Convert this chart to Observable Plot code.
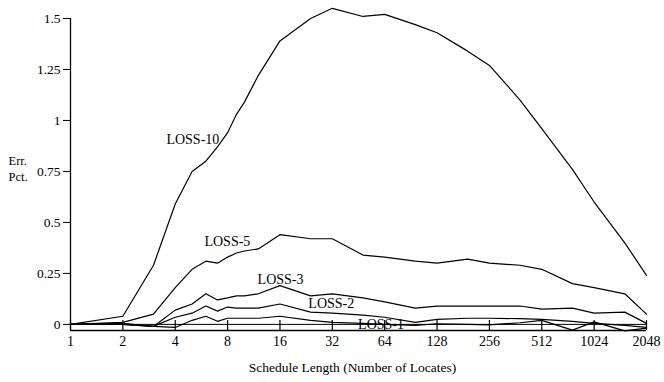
<!DOCTYPE html>
<html>
<head>
<meta charset="utf-8">
<script src="https://cdn.jsdelivr.net/npm/d3@7"></script>
<script src="https://cdn.jsdelivr.net/npm/@observablehq/plot@0.6"></script>
<style>
  html, body { margin: 0; padding: 0; background: white; }
</style>
</head>
<body>
<div id="chart"></div>
<script>
const xs = [1, 2, 3, 4, 5, 6, 7, 8, 9, 10, 12, 16, 24, 32, 48, 64, 96, 128, 192, 256, 384, 512, 768, 1024, 1536, 2048];

const loss10 = [0, 0.04, 0.29, 0.59, 0.75, 0.80, 0.87, 0.94, 1.03, 1.09, 1.22, 1.39, 1.50, 1.55, 1.51, 1.52, 1.47, 1.43, 1.34, 1.27, 1.10, 0.96, 0.76, 0.60, 0.40, 0.24];
const loss5  = [0, 0.01, 0.05, 0.18, 0.27, 0.31, 0.30, 0.33, 0.35, 0.36, 0.37, 0.44, 0.42, 0.42, 0.34, 0.33, 0.31, 0.30, 0.32, 0.30, 0.29, 0.27, 0.20, 0.18, 0.15, 0.05];
const loss3  = [0, 0.0, -0.01, 0.07, 0.10, 0.15, 0.12, 0.13, 0.14, 0.14, 0.15, 0.19, 0.14, 0.15, 0.13, 0.11, 0.08, 0.09, 0.09, 0.09, 0.09, 0.075, 0.08, 0.055, 0.06, 0.005];
const loss2  = [0, 0.005, -0.01, 0.035, 0.055, 0.09, 0.065, 0.085, 0.08, 0.08, 0.08, 0.10, 0.06, 0.055, 0.045, 0.035, 0.01, 0.025, 0.03, 0.03, 0.028, 0.025, 0.015, 0.005, -0.005, -0.015];
const loss1  = [0, 0.0, -0.01, -0.015, 0.02, 0.04, 0.015, 0.03, 0.03, 0.03, 0.03, 0.04, 0.02, 0.01, 0.005, 0.0, -0.005, 0.003, 0.0, -0.002, 0.008, 0.02, -0.028, 0.012, -0.032, -0.018];

const seriesNames = ["LOSS-10", "LOSS-5", "LOSS-3", "LOSS-2", "LOSS-1"];
const seriesValues = [loss10, loss5, loss3, loss2, loss1];
const labelX = [3.56, 5.89, 11.9, 23.3, 45];
const labelY = [0.907, 0.407, 0.22, 0.103, 0.0];

const yTitleLines = ["Err.", "Pct."];
const yTitleY = [0.80, 0.722];

const xTicks = [1, 2, 4, 8, 16, 32, 64, 128, 256, 512, 1024, 2048];
const yTicks = [0, 0.25, 0.5, 0.75, 1, 1.25, 1.5];
const yMin = -0.03;

const rows = seriesNames.flatMap((name, i) =>
  xs.map((x, j) => ({series: name, x, y: seriesValues[i][j]}))
);
const labels = seriesNames.map((name, i) => ({text: name, x: labelX[i], y: labelY[i]}));
const yTitle = yTitleLines.map((t, i) => ({text: t, y: yTitleY[i]}));

const chart = Plot.plot({
  width: 664,
  height: 382,
  marginLeft: 70,
  marginRight: 18,
  marginTop: 18,
  marginBottom: 52,
  style: {fontFamily: "'Liberation Serif', 'DejaVu Serif', serif", fontSize: "14px", background: "white", color: "black"},
  x: {type: "log", base: 2, domain: [1, 2048]},
  y: {domain: [yMin, 1.5]},
  marks: [
    Plot.axisX(xTicks, {tickSize: 0, tickPadding: 6, tickFormat: d => String(d), label: null, fontSize: 14}),
    Plot.axisY(yTicks, {tickSize: 7, tickPadding: 3, tickFormat: d => String(d), label: null, fontSize: 13.5}),
    Plot.ruleX(xTicks, {insetTop: 302, stroke: "black", strokeWidth: 1.2}),
    Plot.ruleY([yMin], {stroke: "black", strokeWidth: 1.3}),
    Plot.ruleY([0], {stroke: "black", strokeWidth: 1}),
    Plot.ruleX([1], {stroke: "black", strokeWidth: 1.3}),
    Plot.line(rows, {x: "x", y: "y", z: "series", stroke: "black", strokeWidth: 1.2}),
    Plot.text(labels, {x: "x", y: "y", text: "text", textAnchor: "start", fontSize: 14, fill: "black"}),
    Plot.text(yTitle, {frameAnchor: "left", y: "y", text: "text", dx: -62, textAnchor: "start", fontSize: 12.5, fill: "black"}),
    Plot.text(["Schedule Length (Number of Locates)"], {frameAnchor: "bottom", dy: 41, dx: -6, fontSize: 13.5, fill: "black"})
  ]
});
document.getElementById("chart").appendChild(chart);
</script>
</body>
</html>
